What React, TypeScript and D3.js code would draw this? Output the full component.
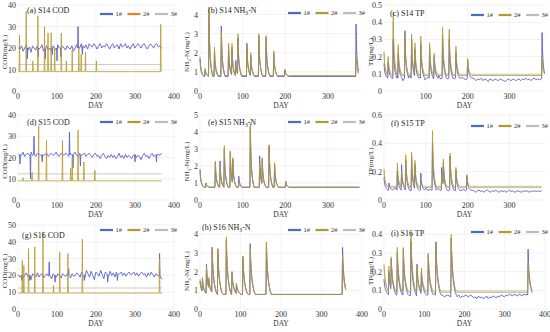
import * as d3 from 'd3';

const W = 550, H = 332;

// ── layout of the 3×3 grid (plot boxes) ─────────────────────────────────────
const COLS: [number, number][] = [[18, 174], [200, 362], [384, 545]];
const ROWS: [number, number][] = [[5, 91], [115, 200], [225, 309]];

const LINE1 = '#5b5fc7', LINE2 = '#b39b2f', LINE3 = '#c9c4bc';
const LEG1 = '#4a6cc4', LEG2 = '#b19a30', LEG2_A = '#e8812f', LEG3 = '#bdbdbd';
const FONT = "'Liberation Serif', 'DejaVu Serif', serif";

// spike shapes (fraction of peak above baseline, day by day)
const COD_SHAPE = [1, 0];
const DECAY = [1, 0.62, 0.42, 0.3, 0.21, 0.15, 0.1, 0.06, 0.03, 0];
const DECAY_LONG = [1, 0.72, 0.55, 0.43, 0.34, 0.27, 0.21, 0.16, 0.12, 0.08, 0.05, 0.03, 0.01, 0];

// ── ticks ───────────────────────────────────────────────────────────────────
const X_400 = [0, 100, 200, 300, 400];
const X_300 = [0, 100, 200, 300];
const X_300_NO0 = [100, 200, 300];

// ── S14 COD ─────────────────────────────────────────────────────────────────
const A_1 = [20,19.5,21,18.5,20,21.5,19,20.5,18,21,20,19,21,19.5,20,21.5,18.5,20,21,19,
  20,18.5,21,20,19,21.5,20,18.5,21,20,19,21,20,19.5,21,18.5,20,21.5,21,20,
  22,21,20,21.5,19.5,22,21,20.5,22,21,19.5,21,22,20,21,20.5,22,21,19.5,21,
  22,20,21,21.5,19.5,22,20.5,21,22,20,21,19.5,21,22,20,21,22,21,20,21.5,
  22,20.5,19.5,21,22,21,20,21.5,22,20.5,21,20];
const A_1_EVENTS = [[24,15],[52,16],[70,15],[88,17],[100,14],[110,16],[154,30],[165,17]];
const A_2_SPIKES = [[4,26],[21,37],[38,14],[51,35],[68,30],[77,27],[85,27],[94,20],[111,27],[124,14],[139,19],[156,20],[162,17],[173,18],[201,14],[366,31]];

// ── S15 COD ─────────────────────────────────────────────────────────────────
const D_1 = [21.5,22,21,22.5,20.5,21.5,22,21,22.5,21,21.5,20.5,22,21.5,21,22.5,21,21.5,22,20.5,
  21.5,22,21,21.5,22.5,21,20.5,22,21.5,21,22,21.5,20.5,22,21,21.5,22.5,21,20.5,22,
  21,21.5,22,20.5,21.5,22,21,20,21.5,22,20.5,21,19.5,21,22,20.5,19.5,21,20,21.5,
  20,21,19.5,20.5,22,20,21,19.5,21.5,20,21,20.5,19.5,21,22,20,21,20.5,19,21,
  22,20.5,21,19.5,21,22,20.5,21,22,21.5,21,22];
const D_1_EVENTS = [[5,17],[32,10],[41,30],[62,18],[132,32],[141,15],[160,16],[300,18],[355,18]];
const D_2_SPIKES = [[13,10.5],[36,13],[53,35],[73,28],[114,28],[135,15],[139,20],[154,33],[169,18],[197,14]];

// ── S16 COD ─────────────────────────────────────────────────────────────────
const G_1 = [20.5,19,21,18.5,20,21.5,19.5,20,17.5,21,20,19,21.5,19,20.5,21,18.5,20,21,19.5,
  20,18,21,20.5,19,21,20,18.5,21,20,19.5,21,20,18.5,21,19.5,20,21.5,20.5,19,
  22,20.5,18.5,23,21,19,22.5,20,17.5,22,21,19.5,23,20.5,18,22,21,19.5,22.5,20,
  21.5,19,22,20.5,21,22,20,21.5,19.5,21,22,20.5,21,22,20,21.5,19.5,21,22,20.5,
  21,19,21.5,20,22,20.5,19,21,20,19.5,18.5,18];
const G_1_EVENTS = [[10,17],[30,17],[80,28],[95,16],[130,24],[170,17],[230,16],[255,17],[363,33]];
const G_2_SPIKES = [[11,29],[15,26],[27,36],[43,37],[64,46],[91,14],[107,34],[128,33],[165,41.5],[363,30]];

// ── NH3-N peaks: [day, 1#, 2#, 3#] ──────────────────────────────────────────
const B_PEAKS = [[0,1.7,1.8,1.7],[12,1.1,1.2,1.1],[21,4.0,4.4,3.8],[34,2.1,2.3,2.0],[50,3.4,3.1,2.8],
  [67,2.4,2.5,2.2],[75,2.3,2.5,2.2],[84,1.6,1.3,1.2],[89,2.8,3.0,2.6],[110,2.5,2.4,2.2],[119,1.9,2.0,1.8],
  [138,2.9,3.0,2.7],[155,2.8,2.9,2.6],[173,2.0,2.1,1.9],[199,1.1,1.15,1.1],[366,3.5,2.0,1.6]];
const E_PEAKS = [[0,1.8,1.8,1.7],[14,1.0,1.0,0.95],[36,2.2,2.3,2.1],[47,2.3,2.0,1.9],[57,3.0,3.2,2.9],
  [71,2.8,2.9,2.6],[77,2.4,2.5,2.3],[91,1.4,1.0,1.0],[118,4.3,4.5,4.0],[140,2.6,2.2,2.1],[146,2.4,2.5,2.3],
  [162,3.2,3.25,3.0],[175,2.1,2.2,2.0],[201,1.1,1.1,1.05]];
const H_PEAKS = [[0,1.5,1.6,1.5],[6,1.6,1.7,1.5],[16,2.4,2.3,2.1],[22,1.6,1.7,1.5],[30,3.3,3.3,3.0],
  [44,3.2,3.25,3.0],[65,3.7,3.86,3.5],[79,2.0,1.9,1.8],[90,1.3,1.4,1.3],[106,2.8,2.84,2.6],
  [124,3.5,3.3,3.0],[164,3.5,3.6,3.3],[352,3.3,2.9,2.6]];

// ── TP peaks: [day, 1#, 2#, 3#] and 1# background ──────────────────────────
const C_PEAKS = [[0,0.16,0.23,0.22],[10,0.17,0.2,0.19],[22,0.3,0.46,0.4],[34,0.22,0.27,0.25],[50,0.35,0.33,0.3],
  [66,0.3,0.33,0.3],[74,0.24,0.28,0.26],[88,0.27,0.32,0.29],[109,0.25,0.28,0.26],[120,0.2,0.22,0.21],
  [140,0.33,0.37,0.34],[156,0.3,0.36,0.33],[172,0.22,0.26,0.24],[200,0.18,0.19,0.18],[378,0.34,0.2,0.18]];
const C_1 = [0.15,0.1,0.08,0.07,0.09,0.07,0.08,0.065,0.09,0.07,0.08,0.06,0.085,0.07,0.075,0.09,0.065,0.08,0.07,0.085,
  0.065,0.08,0.07,0.09,0.065,0.075,0.08,0.06,0.085,0.07,0.08,0.065,0.09,0.07,0.075,0.065,0.08,0.07,0.085,0.065,
  0.075,0.07,0.08,0.065,0.07,0.075,0.08,0.07,0.065,0.075,
  0.07,0.065,0.075,0.07,0.06,0.07,0.065,0.075,0.06,0.07,0.065,0.055,0.07,0.065,0.06,0.07,0.065,0.06,0.07,0.065,
  0.06,0.055,0.065,0.07,0.06,0.065,0.07,0.06,0.065,0.07,0.06,0.07,0.065,0.075,0.065,0.07,0.06,0.07,0.075,0.065,0.07,0.065,0.07,0.075,0.07];

const F_PEAKS = [[0,0.16,0.22,0.21],[12,0.12,0.1,0.1],[32,0.2,0.26,0.24],[42,0.25,0.2,0.19],[52,0.28,0.32,0.29],
  [66,0.3,0.34,0.31],[74,0.25,0.28,0.26],[88,0.19,0.12,0.12],[116,0.4,0.49,0.42],[138,0.23,0.18,0.17],
  [142,0.27,0.29,0.27],[158,0.31,0.33,0.3],[172,0.21,0.23,0.22],[198,0.17,0.18,0.17]];
const F_1 = [0.16,0.12,0.09,0.075,0.1,0.07,0.08,0.085,0.07,0.075,0.08,0.065,0.085,0.07,0.08,0.075,0.065,0.08,0.07,0.085,
  0.075,0.065,0.08,0.07,0.075,0.085,0.065,0.075,0.07,0.08,0.065,0.075,0.08,0.07,0.065,0.08,0.075,0.07,0.065,0.08,
  0.07,0.075,0.065,0.07,0.08,0.065,0.07,0.075,0.065,0.07,
  0.065,0.06,0.07,0.065,0.055,0.065,0.07,0.06,0.065,0.055,0.065,0.07,0.06,0.055,0.065,0.06,0.07,0.06,0.055,0.065,
  0.06,0.065,0.055,0.06,0.07,0.06,0.065,0.055,0.06,0.065,0.06,0.055,0.065,0.06,0.065,0.06,0.055,0.065,0.06,0.065,0.06,0.065,0.06,0.065];

const I_PEAKS = [[0,0.16,0.24,0.23],[12,0.2,0.23,0.21],[18,0.27,0.28,0.26],[33,0.3,0.33,0.31],[48,0.32,0.33,0.3],
  [67,0.36,0.41,0.38],[82,0.24,0.22,0.2],[93,0.2,0.22,0.2],[110,0.29,0.3,0.28],[129,0.36,0.35,0.33],
  [167,0.38,0.40,0.37],[358,0.32,0.25,0.22]];
const I_1 = [0.16,0.11,0.09,0.08,0.1,0.075,0.085,0.09,0.07,0.08,0.085,0.07,0.09,0.075,0.08,0.085,0.07,0.08,0.075,0.09,
  0.07,0.085,0.075,0.08,0.07,0.085,0.075,0.065,0.08,0.07,0.075,0.08,0.065,0.075,0.08,0.07,0.075,0.065,0.07,0.075,
  0.07,0.065,0.075,0.06,0.07,0.065,0.075,0.06,0.07,0.065,0.075,0.07,0.065,0.075,0.07,0.06,0.065,0.055,0.07,0.06,
  0.065,0.055,0.06,0.07,0.055,0.065,0.06,0.07,0.065,0.06,0.07,0.065,0.075,0.07,0.065,0.075,0.07,0.08,0.075,0.07,
  0.08,0.075,0.07,0.08,0.075,0.07,0.08,0.075,0.08,0.07,0.075,0.08];

type Pt = [number, number];

// series points: background values + events shaped by `shape`
function build(span: number[], base: number, noise: number[], events: number[][], shape: number[]): Pt[] {
  const [s, e] = span;
  const win = new Map<number, number>();
  const inWin = (d: number) => events.some(([ed]) => d >= ed - 1 && d <= ed + shape.length - 1);
  events.forEach(([ed, v]) => {
    for (let k = -1; k < shape.length; k++) {
      const day = ed + k;
      if (day < s || day > e) continue;
      const c = k < 0 ? base : base + (v - base) * shape[k];
      const prev = win.get(day);
      if (prev === undefined || Math.abs(c - base) > Math.abs(prev - base)) win.set(day, c);
    }
  });
  const pts: Pt[] = [...win.entries()];
  const raw: Pt[] = noise.length
    ? noise.map((v, i) => [s + (i * (e - s)) / (noise.length - 1), v])
    : [[s, base], [e, base]];
  raw.forEach(p => { if (!inWin(p[0])) pts.push(p); });
  return pts.sort((a, b) => a[0] - b[0]);
}

const col = (t: number[][], i: number) => t.map(r => [r[0], r[i]]);

const COD_T = ['COD(mg/L)'];
const NH_T = ['NH', '3', '-N(mg/L)'];
const TP_T = ['TP(mg/L)'];

const PANELS = [
  { id: 'a', row: 0, col: 0, title: ['(a) S14 COD'], yTitle: COD_T, xMax: 400, xTicks: X_400, yMax: 40, yTicks: [0,10,20,30,40],
    tAt: [9, 8], legDy: 9, leg2: LEG2_A, span: [1, 368], base: [20, 9, 12.3], noise: A_1,
    ev: [A_1_EVENTS, A_2_SPIKES, []], shape: COD_SHAPE },
  { id: 'b', row: 0, col: 1, title: ['(b) S14 NH', '3', '-N'], yTitle: NH_T, xMax: 380, xTicks: X_300, yMax: 4.5, yTicks: [0,1,2,3,4],
    tAt: [8, 8], legDy: 8, leg2: LEG2, span: [0, 372], base: [0.76, 0.8, 0.8], noise: [],
    ev: [col(B_PEAKS, 1), col(B_PEAKS, 2), col(B_PEAKS, 3)], shape: DECAY },
  { id: 'c', row: 0, col: 2, title: ['(c) S14 TP'], yTitle: TP_T, xMax: 385, xTicks: X_300_NO0, yMax: 0.5, yTicks: [0,0.1,0.2,0.3,0.4,0.5],
    tAt: [6, 11], legDy: 10, leg2: LEG2, span: [0, 384], base: [0.075, 0.09, 0.097], noise: C_1,
    ev: [col(C_PEAKS, 1), col(C_PEAKS, 2), col(C_PEAKS, 3)], shape: DECAY },
  { id: 'd', row: 1, col: 0, title: ['(d) S15 COD'], yTitle: COD_T, xMax: 400, xTicks: X_400, yMax: 40, yTicks: [0,10,20,30,40],
    tAt: [9, 10], legDy: 7, leg2: LEG2, span: [1, 368], base: [21.3, 9, 12.3], noise: D_1,
    ev: [D_1_EVENTS, D_2_SPIKES, []], shape: COD_SHAPE },
  { id: 'e', row: 1, col: 1, title: ['(e) S15 NH', '3', '-N'], yTitle: NH_T, xMax: 380, xTicks: X_300, yMax: 5, yTicks: [0,1,2,3,4,5],
    tAt: [8, 10], legDy: 7, leg2: LEG2, span: [0, 374], base: [0.75, 0.75, 0.75], noise: [],
    ev: [col(E_PEAKS, 1), col(E_PEAKS, 2), col(E_PEAKS, 3)], shape: DECAY },
  { id: 'f', row: 1, col: 2, title: ['(f) S15 TP'], yTitle: TP_T, xMax: 385, xTicks: X_300, yMax: 0.6, yTicks: [0,0.2,0.4,0.6],
    tAt: [7, 11], legDy: 11, leg2: LEG2, span: [0, 377], base: [0.07, 0.09, 0.097], noise: F_1,
    ev: [col(F_PEAKS, 1), col(F_PEAKS, 2), col(F_PEAKS, 3)], shape: DECAY },
  { id: 'g', row: 2, col: 0, title: ['(g) S16 COD'], yTitle: COD_T, xMax: 400, xTicks: X_400, yMax: 50, yTicks: [0,10,20,30,40,50],
    tAt: [4, 13], legDy: 5, leg2: LEG2, span: [1, 370], base: [20, 9.5, 12.5], noise: G_1,
    ev: [G_1_EVENTS, G_2_SPIKES, []], shape: COD_SHAPE },
  { id: 'h', row: 2, col: 1, title: ['(h) S16 NH', '3', '-N'], yTitle: NH_T, xMax: 400, xTicks: X_400, yMax: 4.5, yTicks: [0,1,2,3,4],
    tAt: [2, 5], legDy: 5, leg2: LEG2, span: [0, 360], base: [0.78, 0.78, 0.78], noise: [],
    ev: [col(H_PEAKS, 1), col(H_PEAKS, 2), col(H_PEAKS, 3)], shape: DECAY_LONG },
  { id: 'i', row: 2, col: 2, title: ['(i) S16 TP'], yTitle: TP_T, xMax: 400, xTicks: X_400, yMax: 0.45, yTicks: [0,0.1,0.2,0.3,0.4],
    tAt: [7, 11], legDy: 7, leg2: LEG2, span: [0, 368], base: [0.075, 0.09, 0.097], noise: I_1,
    ev: [col(I_PEAKS, 1), col(I_PEAKS, 2), col(I_PEAKS, 3)], shape: DECAY_LONG },
];

// text with subscripts at odd positions
function Parts({ parts, size }: { parts: string[]; size: number }) {
  return (
    <>
      {parts.map((s, i) => i % 2 === 1
        ? <tspan key={i} fontSize={size * 0.7} dy={size * 0.25}>{s}</tspan>
        : <tspan key={i} dy={i > 0 ? -size * 0.25 : 0}>{s}</tspan>)}
    </>
  );
}

function Panel({ p }: { p: typeof PANELS[number] }) {
  const [x0, x1] = COLS[p.col];
  const [y0, y1] = ROWS[p.row];
  const x = d3.scaleLinear().domain([0, p.xMax]).range([x0, x1]);
  const y = d3.scaleLinear().domain([0, p.yMax]).range([y1, y0]);
  const line = d3.line<Pt>().x(d => x(d[0])).y(d => y(d[1]));

  const s1 = build(p.span, p.base[0], p.noise, p.ev[0], p.shape);
  const s2 = build(p.span, p.base[1], [], p.ev[1], p.shape);
  const s3 = build(p.span, p.base[2], [], p.ev[2], p.shape);

  const legX = x1 - 74;
  const legY = y0 + p.legDy;
  const legend = [['1#', LEG1], ['2#', p.leg2], ['3#', LEG3]];

  return (
    <g>
      {p.yTicks.map(t => (
        <line key={'h' + t} x1={x0} x2={x1} y1={y(t)} y2={y(t)} stroke="#e8e8e8" strokeWidth={0.6} />
      ))}
      {p.xTicks.filter(t => t <= p.xMax).map(t => (
        <line key={'v' + t} x1={x(t)} x2={x(t)} y1={y0} y2={y1} stroke="#ececec" strokeWidth={0.6} />
      ))}
      <path d={line(s3) ?? ''} fill="none" stroke={LINE3} strokeWidth={0.9} />
      <path d={line(s1) ?? ''} fill="none" stroke={LINE1} strokeWidth={0.9} />
      <path d={line(s2) ?? ''} fill="none" stroke={LINE2} strokeWidth={0.8} />

      {p.yTicks.map(t => (
        <text key={'yt' + t} x={x0 - 2} y={y(t) + 3} fontSize={8} textAnchor="end" fill="#333">{t}</text>
      ))}
      {p.xTicks.map(t => (
        <text key={'xt' + t} x={x(t)} y={y1 + 8} fontSize={8} textAnchor="middle" fill="#333">{t}</text>
      ))}
      <text x={(x0 + x1) / 2} y={y1 + 17} fontSize={7.5} textAnchor="middle" fill="#333">DAY</text>
      <text transform={`translate(${x0 - 11},${(y0 + y1) / 2 + 4}) rotate(-90)`} fontSize={7} textAnchor="middle" fill="#333">
        <Parts parts={p.yTitle} size={7} />
      </text>
      <text x={x0 + p.tAt[0]} y={y0 + p.tAt[1]} fontSize={8} fill="#222">
        <Parts parts={p.title} size={8} />
      </text>

      {legend.map(([name, color], i) => (
        <g key={name} transform={`translate(${legX + i * 27.5},${legY})`}>
          <line x1={0} x2={13} y1={0} y2={0} stroke={color} strokeWidth={2.2} />
          <text x={15.5} y={2.3} fontSize={6.5} fill="#333">{name}</text>
        </g>
      ))}
    </g>
  );
}

export default function App() {
  return (
    <svg width={W} height={H} style={{ position: 'absolute', left: 0, top: 0, background: '#fff' }} fontFamily={FONT}>
      {PANELS.map(p => <Panel key={p.id} p={p} />)}
    </svg>
  );
}
